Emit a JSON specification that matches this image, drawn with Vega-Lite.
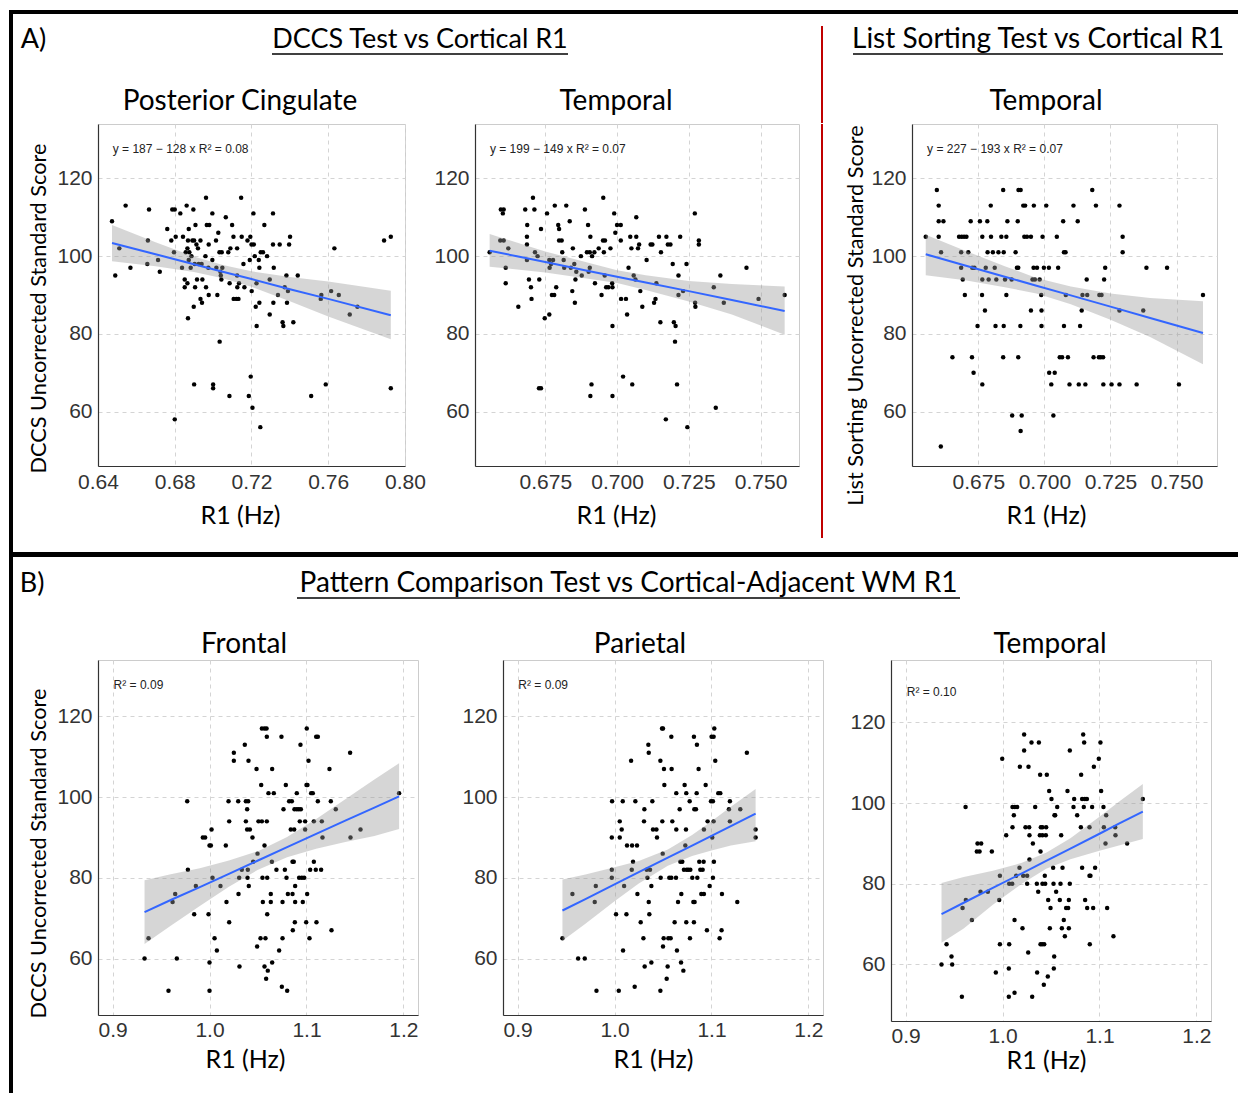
{
"$schema": "https://vega.github.io/schema/vega-lite/v6.json",
"background": "white",
"padding": 0,
"datasets": {
"e": [],
"p1": [{"x":0.6473,"y":109},{"x":0.649,"y":95},{"x":0.6511,"y":102},{"x":0.6544,"y":113},{"x":0.6569,"y":97},{"x":0.6657,"y":98},{"x":0.666,"y":104},{"x":0.6666,"y":112},{"x":0.6713,"y":99},{"x":0.6722,"y":96},{"x":0.6761,"y":107},{"x":0.6782,"y":104},{"x":0.6787,"y":112},{"x":0.68,"y":112},{"x":0.6796,"y":101},{"x":0.68,"y":58},{"x":0.6805,"y":105},{"x":0.6829,"y":111},{"x":0.6838,"y":97},{"x":0.6843,"y":105},{"x":0.6852,"y":94},{"x":0.6852,"y":92},{"x":0.6857,"y":101},{"x":0.6862,"y":113},{"x":0.6866,"y":102},{"x":0.6866,"y":93},{"x":0.6869,"y":84},{"x":0.6869,"y":104},{"x":0.6873,"y":107},{"x":0.6873,"y":99},{"x":0.6876,"y":101},{"x":0.6883,"y":97},{"x":0.6887,"y":100},{"x":0.6892,"y":104},{"x":0.6897,"y":112},{"x":0.6899,"y":87},{"x":0.6901,"y":67},{"x":0.6901,"y":104},{"x":0.6904,"y":98},{"x":0.6908,"y":108},{"x":0.6906,"y":92},{"x":0.6913,"y":103},{"x":0.6916,"y":94},{"x":0.6921,"y":102},{"x":0.6925,"y":98},{"x":0.6934,"y":104},{"x":0.6934,"y":89},{"x":0.6942,"y":88},{"x":0.6944,"y":94},{"x":0.694,"y":98},{"x":0.696,"y":100},{"x":0.6963,"y":115},{"x":0.6963,"y":92},{"x":0.6967,"y":108},{"x":0.6975,"y":97},{"x":0.6977,"y":103},{"x":0.698,"y":108},{"x":0.6977,"y":90},{"x":0.6996,"y":111},{"x":0.6996,"y":99},{"x":0.7,"y":67},{"x":0.7,"y":66},{"x":0.7015,"y":104},{"x":0.7017,"y":97},{"x":0.7022,"y":90},{"x":0.7027,"y":106},{"x":0.7033,"y":101},{"x":0.7034,"y":78},{"x":0.7038,"y":96},{"x":0.704,"y":95},{"x":0.7043,"y":94},{"x":0.7045,"y":101},{"x":0.7048,"y":97},{"x":0.7066,"y":110},{"x":0.7079,"y":101},{"x":0.7086,"y":93},{"x":0.709,"y":102},{"x":0.7085,"y":64},{"x":0.7099,"y":108},{"x":0.7106,"y":105},{"x":0.7107,"y":89},{"x":0.7121,"y":89},{"x":0.7125,"y":95},{"x":0.7125,"y":102},{"x":0.7126,"y":92},{"x":0.7132,"y":89},{"x":0.7135,"y":93},{"x":0.7146,"y":115},{"x":0.7149,"y":105},{"x":0.7158,"y":98},{"x":0.7163,"y":92},{"x":0.7179,"y":104},{"x":0.7186,"y":64},{"x":0.7191,"y":99},{"x":0.7194,"y":105},{"x":0.7196,"y":69},{"x":0.72,"y":103},{"x":0.7201,"y":91},{"x":0.7205,"y":61},{"x":0.721,"y":111},{"x":0.7212,"y":103},{"x":0.7217,"y":100},{"x":0.7222,"y":87},{"x":0.7226,"y":93},{"x":0.7227,"y":82},{"x":0.7238,"y":99},{"x":0.7241,"y":97},{"x":0.7241,"y":88},{"x":0.7246,"y":56},{"x":0.7248,"y":101},{"x":0.726,"y":101},{"x":0.7267,"y":108},{"x":0.7281,"y":100},{"x":0.7295,"y":94},{"x":0.7295,"y":85},{"x":0.7312,"y":111},{"x":0.7312,"y":103},{"x":0.7316,"y":97},{"x":0.7314,"y":88},{"x":0.7338,"y":90},{"x":0.7347,"y":103},{"x":0.7362,"y":83},{"x":0.7366,"y":82},{"x":0.7373,"y":92},{"x":0.7382,"y":95},{"x":0.7385,"y":88},{"x":0.739,"y":91},{"x":0.7396,"y":103},{"x":0.7401,"y":105},{"x":0.7418,"y":83},{"x":0.7441,"y":95},{"x":0.7511,"y":64},{"x":0.7561,"y":89},{"x":0.7564,"y":90},{"x":0.7587,"y":67},{"x":0.7615,"y":91},{"x":0.7632,"y":102},{"x":0.7655,"y":90},{"x":0.7712,"y":85},{"x":0.7752,"y":87},{"x":0.7891,"y":104},{"x":0.7926,"y":105},{"x":0.7926,"y":66}],
"p2": [{"x":0.6556,"y":101},{"x":0.6595,"y":112},{"x":0.6602,"y":111},{"x":0.6605,"y":112},{"x":0.6593,"y":104},{"x":0.6605,"y":104},{"x":0.6612,"y":97},{"x":0.6612,"y":93},{"x":0.6621,"y":102},{"x":0.6656,"y":87},{"x":0.668,"y":112},{"x":0.6687,"y":108},{"x":0.6686,"y":105},{"x":0.6686,"y":103},{"x":0.6686,"y":99},{"x":0.6693,"y":94},{"x":0.67,"y":92},{"x":0.6702,"y":89},{"x":0.6707,"y":115},{"x":0.6712,"y":112},{"x":0.6714,"y":101},{"x":0.6723,"y":100},{"x":0.6729,"y":94},{"x":0.6735,"y":107},{"x":0.6728,"y":66},{"x":0.6735,"y":66},{"x":0.6748,"y":84},{"x":0.6756,"y":111},{"x":0.6764,"y":85},{"x":0.6764,"y":99},{"x":0.6765,"y":97},{"x":0.677,"y":98},{"x":0.6773,"y":90},{"x":0.6781,"y":90},{"x":0.6777,"y":99},{"x":0.6783,"y":113},{"x":0.6788,"y":92},{"x":0.6795,"y":108},{"x":0.6798,"y":107},{"x":0.6798,"y":104},{"x":0.6807,"y":104},{"x":0.6809,"y":101},{"x":0.6814,"y":99},{"x":0.6816,"y":97},{"x":0.6823,"y":113},{"x":0.6835,"y":109},{"x":0.6839,"y":97},{"x":0.6844,"y":91},{"x":0.6846,"y":102},{"x":0.6851,"y":98},{"x":0.6853,"y":88},{"x":0.6855,"y":94},{"x":0.6858,"y":96},{"x":0.6874,"y":100},{"x":0.6877,"y":95},{"x":0.6888,"y":112},{"x":0.6895,"y":101},{"x":0.6899,"y":108},{"x":0.6901,"y":96},{"x":0.6905,"y":97},{"x":0.6907,"y":105},{"x":0.6905,"y":101},{"x":0.6907,"y":64},{"x":0.6911,"y":67},{"x":0.6913,"y":100},{"x":0.6921,"y":101},{"x":0.6923,"y":93},{"x":0.6936,"y":102},{"x":0.6946,"y":90},{"x":0.6952,"y":115},{"x":0.6951,"y":104},{"x":0.6958,"y":104},{"x":0.6954,"y":101},{"x":0.6957,"y":95},{"x":0.6962,"y":92},{"x":0.697,"y":92},{"x":0.6977,"y":102},{"x":0.6983,"y":93},{"x":0.6984,"y":92},{"x":0.6984,"y":82},{"x":0.6984,"y":64},{"x":0.699,"y":111},{"x":0.6994,"y":106},{"x":0.7,"y":108},{"x":0.7013,"y":108},{"x":0.7013,"y":104},{"x":0.7014,"y":89},{"x":0.7021,"y":69},{"x":0.7031,"y":89},{"x":0.7035,"y":85},{"x":0.704,"y":97},{"x":0.7046,"y":105},{"x":0.705,"y":102},{"x":0.7053,"y":67},{"x":0.7058,"y":95},{"x":0.7064,"y":94},{"x":0.7067,"y":110},{"x":0.7067,"y":105},{"x":0.7073,"y":102},{"x":0.7077,"y":103},{"x":0.7081,"y":91},{"x":0.7088,"y":87},{"x":0.7103,"y":99},{"x":0.7117,"y":103},{"x":0.7123,"y":103},{"x":0.7129,"y":88},{"x":0.7134,"y":89},{"x":0.7137,"y":93},{"x":0.7146,"y":105},{"x":0.7151,"y":83},{"x":0.7153,"y":101},{"x":0.717,"y":58},{"x":0.7172,"y":105},{"x":0.7177,"y":103},{"x":0.7186,"y":103},{"x":0.7194,"y":98},{"x":0.7198,"y":83},{"x":0.7204,"y":82},{"x":0.7202,"y":78},{"x":0.7209,"y":67},{"x":0.7214,"y":95},{"x":0.7214,"y":90},{"x":0.722,"y":105},{"x":0.723,"y":91},{"x":0.7242,"y":98},{"x":0.7245,"y":56},{"x":0.7271,"y":111},{"x":0.7272,"y":88},{"x":0.7273,"y":87},{"x":0.7285,"y":104},{"x":0.7285,"y":103},{"x":0.7337,"y":92},{"x":0.7344,"y":61},{"x":0.736,"y":95},{"x":0.7372,"y":88},{"x":0.7451,"y":97},{"x":0.7493,"y":89},{"x":0.7584,"y":90}],
"p3": [{"x":0.6551,"y":105},{"x":0.6593,"y":117},{"x":0.66,"y":113},{"x":0.66,"y":109},{"x":0.6618,"y":109},{"x":0.66,"y":105},{"x":0.6609,"y":101},{"x":0.6608,"y":51},{"x":0.6652,"y":74},{"x":0.6677,"y":105},{"x":0.6687,"y":105},{"x":0.6696,"y":105},{"x":0.6705,"y":105},{"x":0.6685,"y":101},{"x":0.6712,"y":101},{"x":0.6685,"y":97},{"x":0.6691,"y":94},{"x":0.6699,"y":90},{"x":0.6721,"y":109},{"x":0.6727,"y":97},{"x":0.6735,"y":97},{"x":0.6726,"y":74},{"x":0.6732,"y":70},{"x":0.6747,"y":82},{"x":0.6756,"y":109},{"x":0.6765,"y":105},{"x":0.6765,"y":94},{"x":0.6765,"y":67},{"x":0.6764,"y":90},{"x":0.6775,"y":86},{"x":0.6778,"y":97},{"x":0.6784,"y":109},{"x":0.6785,"y":101},{"x":0.6789,"y":94},{"x":0.6797,"y":113},{"x":0.6798,"y":105},{"x":0.6805,"y":101},{"x":0.6812,"y":97},{"x":0.6815,"y":82},{"x":0.6818,"y":94},{"x":0.6826,"y":101},{"x":0.6837,"y":105},{"x":0.6844,"y":117},{"x":0.6846,"y":101},{"x":0.6846,"y":82},{"x":0.6844,"y":74},{"x":0.6851,"y":94},{"x":0.6856,"y":105},{"x":0.686,"y":109},{"x":0.6856,"y":90},{"x":0.6876,"y":94},{"x":0.6891,"y":101},{"x":0.6896,"y":97},{"x":0.6901,"y":97},{"x":0.6899,"y":109},{"x":0.6902,"y":117},{"x":0.691,"y":117},{"x":0.6901,"y":74},{"x":0.6909,"y":82},{"x":0.6914,"y":59},{"x":0.6878,"y":59},{"x":0.691,"y":55},{"x":0.692,"y":113},{"x":0.6927,"y":113},{"x":0.6924,"y":105},{"x":0.6934,"y":105},{"x":0.6949,"y":105},{"x":0.6949,"y":86},{"x":0.6955,"y":94},{"x":0.696,"y":113},{"x":0.6959,"y":97},{"x":0.6964,"y":94},{"x":0.6972,"y":97},{"x":0.6982,"y":94},{"x":0.6988,"y":90},{"x":0.6989,"y":86},{"x":0.6989,"y":82},{"x":0.6993,"y":105},{"x":0.6998,"y":97},{"x":0.7007,"y":113},{"x":0.7017,"y":97},{"x":0.7018,"y":70},{"x":0.7026,"y":67},{"x":0.7034,"y":59},{"x":0.7039,"y":70},{"x":0.7047,"y":105},{"x":0.7052,"y":97},{"x":0.7058,"y":74},{"x":0.7067,"y":74},{"x":0.7071,"y":109},{"x":0.7074,"y":101},{"x":0.708,"y":101},{"x":0.7074,"y":82},{"x":0.7081,"y":90},{"x":0.7089,"y":74},{"x":0.7095,"y":67},{"x":0.711,"y":113},{"x":0.7126,"y":109},{"x":0.713,"y":67},{"x":0.7135,"y":82},{"x":0.7141,"y":86},{"x":0.7144,"y":90},{"x":0.716,"y":94},{"x":0.7162,"y":90},{"x":0.7155,"y":67},{"x":0.7181,"y":117},{"x":0.7186,"y":74},{"x":0.7195,"y":113},{"x":0.7206,"y":74},{"x":0.7213,"y":74},{"x":0.7222,"y":74},{"x":0.7208,"y":90},{"x":0.7216,"y":90},{"x":0.7223,"y":67},{"x":0.7226,"y":94},{"x":0.723,"y":97},{"x":0.7254,"y":67},{"x":0.7284,"y":113},{"x":0.7296,"y":105},{"x":0.7296,"y":101},{"x":0.7284,"y":86},{"x":0.7284,"y":67},{"x":0.7349,"y":67},{"x":0.7374,"y":86},{"x":0.7386,"y":97},{"x":0.7464,"y":97},{"x":0.7509,"y":67},{"x":0.76,"y":90}],
"p4": [{"x":0.933,"y":60},{"x":0.9371,"y":65},{"x":0.9577,"y":52},{"x":0.9619,"y":74},{"x":0.9646,"y":76},{"x":0.9663,"y":60},{"x":0.977,"y":99},{"x":0.9777,"y":82},{"x":0.9842,"y":71},{"x":0.9859,"y":78},{"x":0.9931,"y":90},{"x":0.9955,"y":90},{"x":0.999,"y":71},{"x":1.0,"y":88},{"x":1.0014,"y":88},{"x":1.0021,"y":92},{"x":1.0,"y":59},{"x":1.0,"y":52},{"x":1.0031,"y":80},{"x":1.0052,"y":65},{"x":1.0076,"y":62},{"x":1.0113,"y":78},{"x":1.0168,"y":88},{"x":1.0175,"y":74},{"x":1.0196,"y":99},{"x":1.0203,"y":94},{"x":1.0203,"y":69},{"x":1.0251,"y":111},{"x":1.0251,"y":109},{"x":1.0296,"y":99},{"x":1.0299,"y":76},{"x":1.0306,"y":80},{"x":1.0309,"y":58},{"x":1.0333,"y":82},{"x":1.0364,"y":113},{"x":1.0375,"y":99},{"x":1.0375,"y":94},{"x":1.0388,"y":97},{"x":1.0388,"y":92},{"x":1.0402,"y":109},{"x":1.0399,"y":99},{"x":1.0395,"y":82},{"x":1.0392,"y":80},{"x":1.0405,"y":78},{"x":1.0416,"y":92},{"x":1.0443,"y":90},{"x":1.045,"y":84},{"x":1.0485,"y":107},{"x":1.0491,"y":63},{"x":1.0495,"y":86},{"x":1.0505,"y":94},{"x":1.0533,"y":103},{"x":1.0526,"y":65},{"x":1.054,"y":94},{"x":1.0546,"y":80},{"x":1.055,"y":74},{"x":1.054,"y":117},{"x":1.0567,"y":117},{"x":1.0588,"y":117},{"x":1.0567,"y":88},{"x":1.0567,"y":58},{"x":1.0577,"y":65},{"x":1.0584,"y":55},{"x":1.0591,"y":115},{"x":1.0591,"y":94},{"x":1.0595,"y":80},{"x":1.0595,"y":71},{"x":1.0601,"y":57},{"x":1.0608,"y":101},{"x":1.0632,"y":76},{"x":1.0632,"y":74},{"x":1.0646,"y":59},{"x":1.0643,"y":84},{"x":1.0646,"y":107},{"x":1.0663,"y":101},{"x":1.069,"y":82},{"x":1.0718,"y":62},{"x":1.0742,"y":115},{"x":1.0746,"y":53},{"x":1.0753,"y":74},{"x":1.0753,"y":65},{"x":1.0763,"y":97},{"x":1.0777,"y":82},{"x":1.0787,"y":103},{"x":1.0794,"y":80},{"x":1.0801,"y":52},{"x":1.0808,"y":76},{"x":1.0821,"y":99},{"x":1.0849,"y":99},{"x":1.0838,"y":92},{"x":1.0856,"y":84},{"x":1.0856,"y":76},{"x":1.0859,"y":67},{"x":1.0873,"y":92},{"x":1.0876,"y":97},{"x":1.0869,"y":84},{"x":1.088,"y":69},{"x":1.0883,"y":78},{"x":1.0883,"y":74},{"x":1.09,"y":101},{"x":1.09,"y":97},{"x":1.0921,"y":97},{"x":1.0924,"y":80},{"x":1.0931,"y":94},{"x":1.0938,"y":113},{"x":1.0942,"y":97},{"x":1.0952,"y":80},{"x":1.0962,"y":74},{"x":1.0976,"y":80},{"x":1.0986,"y":94},{"x":1.0986,"y":92},{"x":1.0997,"y":69},{"x":1.1003,"y":117},{"x":1.1,"y":103},{"x":1.101,"y":103},{"x":1.1007,"y":76},{"x":1.1021,"y":109},{"x":1.1031,"y":65},{"x":1.1038,"y":82},{"x":1.1048,"y":101},{"x":1.1065,"y":101},{"x":1.1076,"y":94},{"x":1.1076,"y":84},{"x":1.1096,"y":82},{"x":1.11,"y":115},{"x":1.1117,"y":115},{"x":1.1117,"y":99},{"x":1.1103,"y":69},{"x":1.1151,"y":82},{"x":1.1158,"y":94},{"x":1.1165,"y":90},{"x":1.1237,"y":107},{"x":1.1251,"y":99},{"x":1.1258,"y":67},{"x":1.1302,"y":97},{"x":1.145,"y":111},{"x":1.1454,"y":90},{"x":1.1557,"y":92},{"x":1.1955,"y":101}],
"p5": [{"x":0.9463,"y":65},{"x":0.9566,"y":76},{"x":0.9625,"y":60},{"x":0.9693,"y":60},{"x":0.9807,"y":78},{"x":0.9796,"y":74},{"x":0.9814,"y":52},{"x":0.9972,"y":82},{"x":0.9972,"y":80},{"x":0.9972,"y":90},{"x":0.9975,"y":99},{"x":1.0016,"y":71},{"x":1.0044,"y":52},{"x":1.0054,"y":94},{"x":1.0054,"y":90},{"x":1.0074,"y":92},{"x":1.0085,"y":99},{"x":1.0088,"y":62},{"x":1.0099,"y":78},{"x":1.0123,"y":71},{"x":1.0129,"y":88},{"x":1.0181,"y":88},{"x":1.0171,"y":109},{"x":1.0191,"y":84},{"x":1.0178,"y":82},{"x":1.0208,"y":53},{"x":1.0215,"y":99},{"x":1.0232,"y":88},{"x":1.0236,"y":76},{"x":1.027,"y":69},{"x":1.0298,"y":65},{"x":1.0304,"y":94},{"x":1.0308,"y":97},{"x":1.0311,"y":58},{"x":1.0332,"y":82},{"x":1.0339,"y":80},{"x":1.0349,"y":113},{"x":1.0353,"y":111},{"x":1.0353,"y":74},{"x":1.0359,"y":71},{"x":1.0366,"y":82},{"x":1.038,"y":78},{"x":1.038,"y":59},{"x":1.039,"y":99},{"x":1.0397,"y":92},{"x":1.0432,"y":92},{"x":1.0438,"y":90},{"x":1.0473,"y":109},{"x":1.0476,"y":80},{"x":1.0473,"y":52},{"x":1.049,"y":117},{"x":1.05,"y":117},{"x":1.0493,"y":94},{"x":1.0497,"y":86},{"x":1.05,"y":63},{"x":1.0507,"y":65},{"x":1.051,"y":107},{"x":1.0514,"y":103},{"x":1.0538,"y":55},{"x":1.0548,"y":58},{"x":1.0555,"y":65},{"x":1.0565,"y":80},{"x":1.0579,"y":65},{"x":1.0586,"y":115},{"x":1.0586,"y":80},{"x":1.0589,"y":107},{"x":1.0596,"y":94},{"x":1.062,"y":69},{"x":1.0634,"y":80},{"x":1.0637,"y":101},{"x":1.0637,"y":92},{"x":1.0644,"y":62},{"x":1.0655,"y":74},{"x":1.0672,"y":97},{"x":1.0679,"y":84},{"x":1.0686,"y":59},{"x":1.0689,"y":76},{"x":1.071,"y":57},{"x":1.0699,"y":84},{"x":1.0716,"y":82},{"x":1.0723,"y":103},{"x":1.073,"y":88},{"x":1.0737,"y":92},{"x":1.074,"y":101},{"x":1.0744,"y":82},{"x":1.074,"y":69},{"x":1.0761,"y":82},{"x":1.0775,"y":99},{"x":1.0782,"y":82},{"x":1.0778,"y":65},{"x":1.0802,"y":80},{"x":1.0813,"y":74},{"x":1.0819,"y":115},{"x":1.0819,"y":69},{"x":1.0823,"y":97},{"x":1.0826,"y":74},{"x":1.084,"y":97},{"x":1.0847,"y":101},{"x":1.085,"y":113},{"x":1.0854,"y":80},{"x":1.0867,"y":107},{"x":1.0874,"y":84},{"x":1.0885,"y":82},{"x":1.0895,"y":76},{"x":1.0909,"y":82},{"x":1.0919,"y":84},{"x":1.0922,"y":76},{"x":1.0922,"y":92},{"x":1.094,"y":103},{"x":1.0953,"y":67},{"x":1.096,"y":94},{"x":1.0981,"y":78},{"x":1.0995,"y":99},{"x":1.1001,"y":115},{"x":1.1008,"y":90},{"x":1.1015,"y":80},{"x":1.1022,"y":115},{"x":1.1015,"y":99},{"x":1.1022,"y":94},{"x":1.1025,"y":84},{"x":1.1029,"y":117},{"x":1.1039,"y":109},{"x":1.107,"y":101},{"x":1.1091,"y":101},{"x":1.1084,"y":65},{"x":1.1104,"y":67},{"x":1.1108,"y":76},{"x":1.119,"y":99},{"x":1.119,"y":94},{"x":1.118,"y":97},{"x":1.1266,"y":74},{"x":1.1297,"y":97},{"x":1.1365,"y":111},{"x":1.1455,"y":92},{"x":1.1455,"y":90}],
"p6": [{"x":0.9371,"y":60},{"x":0.9423,"y":65},{"x":0.9474,"y":62},{"x":0.9481,"y":60},{"x":0.9581,"y":52},{"x":0.9588,"y":74},{"x":0.9619,"y":99},{"x":0.9622,"y":76},{"x":0.9684,"y":71},{"x":0.9735,"y":88},{"x":0.9763,"y":88},{"x":0.9742,"y":90},{"x":0.978,"y":90},{"x":0.9773,"y":78},{"x":0.9849,"y":78},{"x":0.989,"y":88},{"x":0.9931,"y":58},{"x":0.9966,"y":76},{"x":0.9973,"y":65},{"x":0.9973,"y":82},{"x":0.9997,"y":111},{"x":1.0038,"y":92},{"x":1.0069,"y":80},{"x":1.0065,"y":52},{"x":1.0069,"y":65},{"x":1.0065,"y":59},{"x":1.0103,"y":94},{"x":1.0103,"y":99},{"x":1.0117,"y":97},{"x":1.0127,"y":99},{"x":1.0151,"y":99},{"x":1.0124,"y":71},{"x":1.0124,"y":53},{"x":1.01,"y":80},{"x":1.0141,"y":82},{"x":1.0175,"y":84},{"x":1.0179,"y":109},{"x":1.0206,"y":69},{"x":1.0223,"y":113},{"x":1.0223,"y":117},{"x":1.0213,"y":82},{"x":1.0237,"y":94},{"x":1.0254,"y":82},{"x":1.0265,"y":63},{"x":1.0268,"y":109},{"x":1.0275,"y":94},{"x":1.0278,"y":92},{"x":1.0254,"y":80},{"x":1.0278,"y":86},{"x":1.0299,"y":115},{"x":1.0306,"y":52},{"x":1.0313,"y":90},{"x":1.0337,"y":99},{"x":1.0354,"y":80},{"x":1.0357,"y":58},{"x":1.0368,"y":78},{"x":1.0375,"y":115},{"x":1.0385,"y":92},{"x":1.0392,"y":88},{"x":1.0392,"y":65},{"x":1.0388,"y":107},{"x":1.0395,"y":94},{"x":1.0409,"y":65},{"x":1.0412,"y":80},{"x":1.0412,"y":94},{"x":1.0412,"y":92},{"x":1.0426,"y":55},{"x":1.043,"y":65},{"x":1.0436,"y":82},{"x":1.044,"y":80},{"x":1.0447,"y":92},{"x":1.045,"y":94},{"x":1.0457,"y":107},{"x":1.0467,"y":57},{"x":1.0471,"y":76},{"x":1.0481,"y":103},{"x":1.0488,"y":69},{"x":1.0495,"y":74},{"x":1.0505,"y":101},{"x":1.0522,"y":84},{"x":1.0526,"y":80},{"x":1.0533,"y":62},{"x":1.0529,"y":59},{"x":1.0536,"y":97},{"x":1.0543,"y":97},{"x":1.0553,"y":78},{"x":1.0564,"y":99},{"x":1.0591,"y":76},{"x":1.0598,"y":80},{"x":1.0605,"y":92},{"x":1.0612,"y":69},{"x":1.0619,"y":84},{"x":1.0632,"y":71},{"x":1.0643,"y":67},{"x":1.0656,"y":74},{"x":1.067,"y":103},{"x":1.0677,"y":74},{"x":1.0684,"y":76},{"x":1.0684,"y":69},{"x":1.0694,"y":113},{"x":1.0694,"y":80},{"x":1.0732,"y":99},{"x":1.0739,"y":101},{"x":1.077,"y":97},{"x":1.0808,"y":94},{"x":1.0811,"y":107},{"x":1.0821,"y":101},{"x":1.0821,"y":84},{"x":1.0832,"y":117},{"x":1.0842,"y":115},{"x":1.0838,"y":99},{"x":1.0849,"y":101},{"x":1.087,"y":101},{"x":1.0852,"y":76},{"x":1.0873,"y":74},{"x":1.0897,"y":94},{"x":1.0897,"y":82},{"x":1.09,"y":65},{"x":1.0907,"y":82},{"x":1.0924,"y":99},{"x":1.0935,"y":74},{"x":1.0942,"y":109},{"x":1.0955,"y":84},{"x":1.0993,"y":111},{"x":1.101,"y":115},{"x":1.1017,"y":103},{"x":1.1041,"y":99},{"x":1.1045,"y":94},{"x":1.1062,"y":90},{"x":1.1069,"y":97},{"x":1.1079,"y":74},{"x":1.1162,"y":94},{"x":1.1165,"y":92},{"x":1.1144,"y":67},{"x":1.1285,"y":90},{"x":1.1447,"y":101}],
"b1": [{"x":0.6473,"lo":98.7,"hi":108.0,"fit":103.4},{"x":0.67,"lo":97.4,"hi":103.6,"fit":100.5},{"x":0.69,"lo":95.9,"hi":99.9,"fit":97.9},{"x":0.705,"lo":94.3,"hi":97.7,"fit":96.0},{"x":0.72,"lo":92.1,"hi":96.1,"fit":94.1},{"x":0.74,"lo":88.4,"hi":94.6,"fit":91.5},{"x":0.76,"lo":84.5,"hi":93.5,"fit":89.0},{"x":0.7926,"lo":78.6,"hi":91.1,"fit":84.8}],
"b2": [{"x":0.6556,"lo":97.3,"hi":105.7,"fit":101.4},{"x":0.675,"lo":95.8,"hi":101.2,"fit":98.5},{"x":0.69,"lo":94.2,"hi":98.3,"fit":96.2},{"x":0.7,"lo":93.1,"hi":96.4,"fit":94.7},{"x":0.71,"lo":91.3,"hi":95.1,"fit":93.2},{"x":0.725,"lo":88.3,"hi":93.6,"fit":91.0},{"x":0.74,"lo":85.0,"hi":92.8,"fit":88.7},{"x":0.7584,"lo":79.8,"hi":92.2,"fit":85.9}],
"b3": [{"x":0.6551,"lo":95.1,"hi":105.5,"fit":100.5},{"x":0.67,"lo":93.8,"hi":101.4,"fit":97.6},{"x":0.685,"lo":92.0,"hi":97.4,"fit":94.7},{"x":0.697,"lo":90.4,"hi":94.4,"fit":92.4},{"x":0.71,"lo":87.6,"hi":92.2,"fit":89.9},{"x":0.725,"lo":83.6,"hi":90.4,"fit":87.0},{"x":0.74,"lo":79.2,"hi":89.2,"fit":84.1},{"x":0.76,"lo":72.2,"hi":88.4,"fit":80.2}],
"b4": [{"x":0.933,"lo":63.6,"hi":79.4,"fit":71.5},{"x":0.96,"lo":68.1,"hi":80.9,"fit":74.5},{"x":0.99,"lo":73.0,"hi":82.4,"fit":77.7},{"x":1.02,"lo":77.8,"hi":84.3,"fit":81.0},{"x":1.05,"lo":82.0,"hi":86.6,"fit":84.3},{"x":1.08,"lo":85.1,"hi":90.1,"fit":87.6},{"x":1.11,"lo":87.2,"hi":94.6,"fit":90.9},{"x":1.14,"lo":88.9,"hi":99.5,"fit":94.2},{"x":1.17,"lo":90.4,"hi":104.4,"fit":97.4},{"x":1.1955,"lo":92.1,"hi":108.4,"fit":100.2}],
"b5": [{"x":0.9463,"lo":64.4,"hi":79.6,"fit":71.9},{"x":0.97,"lo":68.6,"hi":80.8,"fit":74.7},{"x":1.0,"lo":74.2,"hi":82.6,"fit":78.4},{"x":1.025,"lo":78.6,"hi":84.2,"fit":81.4},{"x":1.055,"lo":83.0,"hi":87.0,"fit":85.0},{"x":1.08,"lo":85.4,"hi":90.6,"fit":88.0},{"x":1.1,"lo":86.8,"hi":94.0,"fit":90.4},{"x":1.12,"lo":88.0,"hi":97.6,"fit":92.8},{"x":1.1455,"lo":89.1,"hi":102.0,"fit":95.9}],
"b6": [{"x":0.9371,"lo":65.4,"hi":80.2,"fit":72.5},{"x":0.96,"lo":68.9,"hi":81.7,"fit":75.3},{"x":0.99,"lo":74.8,"hi":83.2,"fit":79.0},{"x":1.02,"lo":80.0,"hi":85.2,"fit":82.6},{"x":1.045,"lo":83.7,"hi":87.7,"fit":85.7},{"x":1.07,"lo":86.1,"hi":91.3,"fit":88.7},{"x":1.1,"lo":88.2,"hi":96.6,"fit":92.4},{"x":1.12,"lo":89.5,"hi":100.3,"fit":94.9},{"x":1.1447,"lo":91.1,"hi":104.7,"fit":97.9}]
},
"config": {
"view": {"stroke": null},
"font": "Lato",
"axis": {"labelFont": "Liberation Sans", "labelFontSize": 21, "labelColor": "#333333", "labelFlush": false, "labelOverlap": false, "ticks": false, "labelPadding": 6, "domainColor": "#333333", "domainWidth": 1.2, "gridColor": "#d4d4d4", "gridDash": [4, 4], "gridWidth": 1, "titleFont": "Lato", "titleFontSize": 25, "titleFontWeight": "normal", "titleColor": "#000000"}
},
"spacing": 0,
"vconcat": [
{"spacing":0,"bounds":"flush","hconcat":[
 {"width":9,"height":10,"view":{"fill":"#ffffff"},"data":{"name":"e"},"mark":"text"},
 {"width":1229,"height":10,"data":{"name":"e"},"mark":"text"}
]},
{"spacing":0,"bounds":"flush","hconcat":[
 {"width":9,"height":4,"data":{"name":"e"},"mark":"text"},
 {"width":1229,"height":4,"view":{"fill":"#000000"},"data":{"name":"e"},"mark":"text"}
]},
{"spacing":0,"bounds":"flush","hconcat":[
 {"width":9,"height":11,"data":{"name":"e"},"mark":"text"},
 {"width":4,"height":11,"view":{"fill":"#000000"},"data":{"name":"e"},"mark":"text"},
 {"width":1225,"height":11,"data":{"name":"e"},"mark":"text"}
]},
{"spacing":0,"bounds":"flush","hconcat":[
 {"width":10,"height":28,"data":{"name":"e"},"mark":"text"},
 {"width":2,"height":28,"view":{"fill":"#000000","stroke":"#000000","strokeWidth":2},"data":{"name":"e"},"mark":"text"},
 {"width":43,"height":28,"data":{"values":[{"t":"A)"}]},"mark":{"type":"text","font":"Lato","fontSize":27,"align":"center","baseline":"middle","color":"#000000"},"encoding":{"text":{"field":"t","type":"nominal"}}},
 {"width":217,"height":28,"data":{"name":"e"},"mark":"text"},
 {"width":296,"height":28,"view":{"stroke":"#000000","strokeWidth":1.5,"strokeDash":[0,324,296,28]},"data":{"values":[{"t":"DCCS Test vs Cortical R1"}]},"mark":{"type":"text","font":"Lato","fontSize":27,"align":"center","baseline":"middle","color":"#000000"},"encoding":{"text":{"field":"t","type":"nominal"}}},
 {"width":253,"height":28,"data":{"name":"e"},"mark":"text"},
 {"width":2,"height":29,"view":{"fill":"#c00000"},"data":{"name":"e"},"mark":"text"},
 {"width":30,"height":28,"data":{"name":"e"},"mark":"text"},
 {"width":370,"height":28,"view":{"stroke":"#000000","strokeWidth":1.5,"strokeDash":[0,398,370,28]},"data":{"values":[{"t":"List Sorting Test vs Cortical R1"}]},"mark":{"type":"text","font":"Lato","fontSize":28,"align":"center","baseline":"middle","color":"#000000"},"encoding":{"text":{"field":"t","type":"nominal"}}},
 {"width":15,"height":28,"data":{"name":"e"},"mark":"text"}
]},
{"spacing":0,"bounds":"flush","hconcat":[
 {"width":9,"height":33,"data":{"name":"e"},"mark":"text"},
 {"width":4,"height":33,"view":{"fill":"#000000"},"data":{"name":"e"},"mark":"text"},
 {"width":808,"height":33,"data":{"name":"e"},"mark":"text"},
 {"width":2,"height":33,"view":{"fill":"#c00000"},"data":{"name":"e"},"mark":"text"},
 {"width":415,"height":33,"data":{"name":"e"},"mark":"text"}
]},
{"spacing":0,"bounds":"flush","hconcat":[
 {"width":9,"height":28,"data":{"name":"e"},"mark":"text"},
 {"width":4,"height":28,"view":{"fill":"#000000"},"data":{"name":"e"},"mark":"text"},
 {"width":127,"height":28,"data":{"name":"e"},"mark":"text"},
 {"width":200,"height":28,"data":{"values":[{"t":"Posterior Cingulate"}]},"mark":{"type":"text","font":"Lato","fontSize":28,"align":"center","baseline":"middle","color":"#000000"},"encoding":{"text":{"field":"t","type":"nominal"}}},
 {"width":176,"height":28,"data":{"name":"e"},"mark":"text"},
 {"width":200,"height":28,"data":{"values":[{"t":"Temporal"}]},"mark":{"type":"text","font":"Lato","fontSize":28,"align":"center","baseline":"middle","color":"#000000"},"encoding":{"text":{"field":"t","type":"nominal"}}},
 {"width":105,"height":28,"data":{"name":"e"},"mark":"text"},
 {"width":2,"height":28,"view":{"fill":"#c00000"},"data":{"name":"e"},"mark":"text"},
 {"width":123,"height":28,"data":{"name":"e"},"mark":"text"},
 {"width":200,"height":28,"data":{"values":[{"t":"Temporal"}]},"mark":{"type":"text","font":"Lato","fontSize":28,"align":"center","baseline":"middle","color":"#000000"},"encoding":{"text":{"field":"t","type":"nominal"}}},
 {"width":92,"height":28,"data":{"name":"e"},"mark":"text"}
]},
{"spacing":0,"bounds":"flush","hconcat":[
 {"width":9,"height":7,"data":{"name":"e"},"mark":"text"},
 {"width":4,"height":7,"view":{"fill":"#000000"},"data":{"name":"e"},"mark":"text"},
 {"width":808,"height":7,"data":{"name":"e"},"mark":"text"},
 {"width":2,"height":7,"view":{"fill":"#c00000"},"data":{"name":"e"},"mark":"text"},
 {"width":415,"height":7,"data":{"name":"e"},"mark":"text"}
]},
{"spacing":0,"bounds":"flush","hconcat":[
 {"width":10,"height":342,"data":{"name":"e"},"mark":"text"},
 {"width":2,"height":414,"view":{"fill":"#000000","stroke":"#000000","strokeWidth":2},"data":{"name":"e"},"mark":"text"},
 {"width":86,"height":342,"data":{"name":"e"},"mark":"text"},
 {"width":307,"height":342,"view":{"stroke":"#cccccc"},
  "layer":[
   {"data":{"name":"p1"},"mark":{"type":"circle","size":20,"color":"#000000","opacity":1},
    "encoding":{"x":{"field":"x","type":"quantitative","title":"R1 (Hz)","scale":{"domain":[0.64,0.8],"nice":false,"zero":false},"axis":{"values":[0.64,0.68,0.72,0.76,0.8],"format":".2f","labelPadding":5,"titleX":142,"titleY":57,"titleBaseline":"alphabetic","titleAlign":"center"}},
     "y":{"field":"y","type":"quantitative","title":"DCCS Uncorrected Standard Score","scale":{"domain":[46,134],"nice":false,"zero":false},"axis":{"values":[60,80,100,120],"titleFontSize":21.7,"titleAngle":270,"titleX":-60,"titleY":184,"titleBaseline":"middle","titleAlign":"center"}}}},
   {"data":{"name":"b1"},"mark":{"type":"area","color":"#999999","opacity":0.4},
    "encoding":{"x":{"field":"x","type":"quantitative","title":"R1 (Hz)","scale":{"domain":[0.64,0.8],"nice":false,"zero":false}},"y":{"field":"lo","type":"quantitative","title":"DCCS Uncorrected Standard Score","scale":{"domain":[46,134],"nice":false,"zero":false}},"y2":{"field":"hi"}}},
   {"data":{"name":"b1"},"mark":{"type":"line","color":"#3366FF","strokeWidth":2},
    "encoding":{"x":{"field":"x","type":"quantitative","title":"R1 (Hz)","scale":{"domain":[0.64,0.8],"nice":false,"zero":false}},"y":{"field":"fit","type":"quantitative","title":"DCCS Uncorrected Standard Score","scale":{"domain":[46,134],"nice":false,"zero":false}}}},
   {"data":{"values":[{"t":"y = 187 − 128 x   R² = 0.08"}]},"mark":{"type":"text","align":"left","baseline":"middle","font":"Liberation Sans","fontSize":12,"color":"#222222"},
    "encoding":{"x":{"datum":0.6477,"type":"quantitative","scale":{"domain":[0.64,0.8],"nice":false,"zero":false}},"y":{"datum":127.5,"type":"quantitative","scale":{"domain":[46,134],"nice":false,"zero":false}},"text":{"field":"t","type":"nominal"}}}
  ]},
 {"width":70,"height":342,"data":{"name":"e"},"mark":"text"},
 {"width":324,"height":342,"view":{"stroke":"#cccccc"},
  "layer":[
   {"data":{"name":"p2"},"mark":{"type":"circle","size":20,"color":"#000000","opacity":1},
    "encoding":{"x":{"field":"x","type":"quantitative","title":"R1 (Hz)","scale":{"domain":[0.6505,0.7634],"nice":false,"zero":false},"axis":{"values":[0.675,0.7,0.725,0.75],"format":".3f","labelPadding":5,"titleX":141,"titleY":57,"titleBaseline":"alphabetic","titleAlign":"center"}},
     "y":{"field":"y","type":"quantitative","title":null,"scale":{"domain":[46,134],"nice":false,"zero":false},"axis":{"values":[60,80,100,120]}}}},
   {"data":{"name":"b2"},"mark":{"type":"area","color":"#999999","opacity":0.4},
    "encoding":{"x":{"field":"x","type":"quantitative","title":"R1 (Hz)","scale":{"domain":[0.6505,0.7634],"nice":false,"zero":false}},"y":{"field":"lo","type":"quantitative","title":null,"scale":{"domain":[46,134],"nice":false,"zero":false}},"y2":{"field":"hi"}}},
   {"data":{"name":"b2"},"mark":{"type":"line","color":"#3366FF","strokeWidth":2},
    "encoding":{"x":{"field":"x","type":"quantitative","title":"R1 (Hz)","scale":{"domain":[0.6505,0.7634],"nice":false,"zero":false}},"y":{"field":"fit","type":"quantitative","title":null,"scale":{"domain":[46,134],"nice":false,"zero":false}}}},
   {"data":{"values":[{"t":"y = 199 − 149 x   R² = 0.07"}]},"mark":{"type":"text","align":"left","baseline":"middle","font":"Liberation Sans","fontSize":12,"color":"#222222"},
    "encoding":{"x":{"datum":0.6557,"type":"quantitative","scale":{"domain":[0.6505,0.7634],"nice":false,"zero":false}},"y":{"datum":127.5,"type":"quantitative","scale":{"domain":[46,134],"nice":false,"zero":false}},"text":{"field":"t","type":"nominal"}}}
  ]},
 {"width":22,"height":342,"data":{"name":"e"},"mark":"text"},
 {"width":2,"height":414,"view":{"fill":"#c00000"},"data":{"name":"e"},"mark":"text"},
 {"width":89,"height":342,"data":{"name":"e"},"mark":"text"},
 {"width":305,"height":342,"view":{"stroke":"#cccccc"},
  "layer":[
   {"data":{"name":"p3"},"mark":{"type":"circle","size":20,"color":"#000000","opacity":1},
    "encoding":{"x":{"field":"x","type":"quantitative","title":"R1 (Hz)","scale":{"domain":[0.6499,0.7653],"nice":false,"zero":false},"axis":{"values":[0.675,0.7,0.725,0.75],"format":".3f","labelPadding":5,"titleX":134,"titleY":57,"titleBaseline":"alphabetic","titleAlign":"center"}},
     "y":{"field":"y","type":"quantitative","title":"List Sorting Uncorrected Standard Score","scale":{"domain":[46,134],"nice":false,"zero":false},"axis":{"values":[60,80,100,120],"titleFontSize":21.7,"titleAngle":270,"titleX":-57,"titleY":191,"titleBaseline":"middle","titleAlign":"center"}}}},
   {"data":{"name":"b3"},"mark":{"type":"area","color":"#999999","opacity":0.4},
    "encoding":{"x":{"field":"x","type":"quantitative","title":"R1 (Hz)","scale":{"domain":[0.6499,0.7653],"nice":false,"zero":false}},"y":{"field":"lo","type":"quantitative","title":"List Sorting Uncorrected Standard Score","scale":{"domain":[46,134],"nice":false,"zero":false}},"y2":{"field":"hi"}}},
   {"data":{"name":"b3"},"mark":{"type":"line","color":"#3366FF","strokeWidth":2},
    "encoding":{"x":{"field":"x","type":"quantitative","title":"R1 (Hz)","scale":{"domain":[0.6499,0.7653],"nice":false,"zero":false}},"y":{"field":"fit","type":"quantitative","title":"List Sorting Uncorrected Standard Score","scale":{"domain":[46,134],"nice":false,"zero":false}}}},
   {"data":{"values":[{"t":"y = 227 − 193 x   R² = 0.07"}]},"mark":{"type":"text","align":"left","baseline":"middle","font":"Liberation Sans","fontSize":12,"color":"#222222"},
    "encoding":{"x":{"datum":0.6556,"type":"quantitative","scale":{"domain":[0.6499,0.7653],"nice":false,"zero":false}},"y":{"datum":127.5,"type":"quantitative","scale":{"domain":[46,134],"nice":false,"zero":false}},"text":{"field":"t","type":"nominal"}}}
  ]},
 {"width":21,"height":342,"data":{"name":"e"},"mark":"text"}
]},
{"spacing":0,"bounds":"flush","hconcat":[
 {"width":9,"height":13,"data":{"name":"e"},"mark":"text"},
 {"width":4,"height":13,"view":{"fill":"#000000"},"data":{"name":"e"},"mark":"text"},
 {"width":1225,"height":13,"data":{"name":"e"},"mark":"text"}
]},
{"spacing":0,"bounds":"flush","hconcat":[
 {"width":9,"height":5,"data":{"name":"e"},"mark":"text"},
 {"width":1229,"height":5,"view":{"fill":"#000000"},"data":{"name":"e"},"mark":"text"}
]},
{"spacing":0,"bounds":"flush","hconcat":[
 {"width":9,"height":12,"data":{"name":"e"},"mark":"text"},
 {"width":4,"height":12,"view":{"fill":"#000000"},"data":{"name":"e"},"mark":"text"},
 {"width":1225,"height":12,"data":{"name":"e"},"mark":"text"}
]},
{"spacing":0,"bounds":"flush","hconcat":[
 {"width":10,"height":28,"data":{"name":"e"},"mark":"text"},
 {"width":2,"height":28,"view":{"fill":"#000000","stroke":"#000000","strokeWidth":2},"data":{"name":"e"},"mark":"text"},
 {"width":40,"height":28,"data":{"values":[{"t":"B)"}]},"mark":{"type":"text","font":"Lato","fontSize":27,"align":"center","baseline":"middle","color":"#000000"},"encoding":{"text":{"field":"t","type":"nominal"}}},
 {"width":245,"height":28,"data":{"name":"e"},"mark":"text"},
 {"width":663,"height":28,"view":{"stroke":"#000000","strokeWidth":1.5,"strokeDash":[0,691,663,28]},"data":{"values":[{"t":"Pattern Comparison Test vs Cortical-Adjacent WM R1"}]},"mark":{"type":"text","font":"Lato","fontSize":28,"align":"center","baseline":"middle","color":"#000000"},"encoding":{"text":{"field":"t","type":"nominal"}}},
 {"width":278,"height":28,"data":{"name":"e"},"mark":"text"}
]},
{"spacing":0,"bounds":"flush","hconcat":[
 {"width":9,"height":32,"data":{"name":"e"},"mark":"text"},
 {"width":4,"height":32,"view":{"fill":"#000000"},"data":{"name":"e"},"mark":"text"},
 {"width":1225,"height":32,"data":{"name":"e"},"mark":"text"}
]},
{"spacing":0,"bounds":"flush","hconcat":[
 {"width":9,"height":28,"data":{"name":"e"},"mark":"text"},
 {"width":4,"height":28,"view":{"fill":"#000000"},"data":{"name":"e"},"mark":"text"},
 {"width":131,"height":28,"data":{"name":"e"},"mark":"text"},
 {"width":200,"height":28,"data":{"values":[{"t":"Frontal"}]},"mark":{"type":"text","font":"Lato","fontSize":28,"align":"center","baseline":"middle","color":"#000000"},"encoding":{"text":{"field":"t","type":"nominal"}}},
 {"width":196,"height":28,"data":{"name":"e"},"mark":"text"},
 {"width":200,"height":28,"data":{"values":[{"t":"Parietal"}]},"mark":{"type":"text","font":"Lato","fontSize":28,"align":"center","baseline":"middle","color":"#000000"},"encoding":{"text":{"field":"t","type":"nominal"}}},
 {"width":210,"height":28,"data":{"name":"e"},"mark":"text"},
 {"width":200,"height":28,"data":{"values":[{"t":"Temporal"}]},"mark":{"type":"text","font":"Lato","fontSize":28,"align":"center","baseline":"middle","color":"#000000"},"encoding":{"text":{"field":"t","type":"nominal"}}},
 {"width":88,"height":28,"data":{"name":"e"},"mark":"text"}
]},
{"spacing":0,"bounds":"flush","hconcat":[
 {"width":10,"height":355,"data":{"name":"e"},"mark":"text"},
 {"width":2,"height":433,"view":{"fill":"#000000","stroke":"#000000","strokeWidth":2},"data":{"name":"e"},"mark":"text"},
 {"width":86,"height":355,"data":{"name":"e"},"mark":"text"},
 {"width":320,"height":355,"view":{"stroke":"#cccccc"},
  "layer":[
   {"data":{"name":"p4"},"mark":{"type":"circle","size":20,"color":"#000000","opacity":1},
    "encoding":{"x":{"field":"x","type":"quantitative","title":"R1 (Hz)","scale":{"domain":[0.885,1.215],"nice":false,"zero":false},"axis":{"values":[0.9,1.0,1.1,1.2],"format":".1f","labelPadding":4,"titleX":147,"titleY":52,"titleBaseline":"alphabetic","titleAlign":"center"}},
     "y":{"field":"y","type":"quantitative","title":"DCCS Uncorrected Standard Score","scale":{"domain":[46,134],"nice":false,"zero":false},"axis":{"values":[60,80,100,120],"titleFontSize":21.7,"titleAngle":270,"titleX":-60,"titleY":193,"titleBaseline":"middle","titleAlign":"center"}}}},
   {"data":{"name":"b4"},"mark":{"type":"area","color":"#999999","opacity":0.4},
    "encoding":{"x":{"field":"x","type":"quantitative","title":"R1 (Hz)","scale":{"domain":[0.885,1.215],"nice":false,"zero":false}},"y":{"field":"lo","type":"quantitative","title":"DCCS Uncorrected Standard Score","scale":{"domain":[46,134],"nice":false,"zero":false}},"y2":{"field":"hi"}}},
   {"data":{"name":"b4"},"mark":{"type":"line","color":"#3366FF","strokeWidth":2},
    "encoding":{"x":{"field":"x","type":"quantitative","title":"R1 (Hz)","scale":{"domain":[0.885,1.215],"nice":false,"zero":false}},"y":{"field":"fit","type":"quantitative","title":"DCCS Uncorrected Standard Score","scale":{"domain":[46,134],"nice":false,"zero":false}}}},
   {"data":{"values":[{"t":"R² = 0.09"}]},"mark":{"type":"text","align":"left","baseline":"middle","font":"Liberation Sans","fontSize":12,"color":"#222222"},
    "encoding":{"x":{"datum":0.9011,"type":"quantitative","scale":{"domain":[0.885,1.215],"nice":false,"zero":false}},"y":{"datum":127.7,"type":"quantitative","scale":{"domain":[46,134],"nice":false,"zero":false}},"text":{"field":"t","type":"nominal"}}}
  ]},
 {"width":85,"height":355,"data":{"name":"e"},"mark":"text"},
 {"width":320,"height":355,"view":{"stroke":"#cccccc"},
  "layer":[
   {"data":{"name":"p5"},"mark":{"type":"circle","size":20,"color":"#000000","opacity":1},
    "encoding":{"x":{"field":"x","type":"quantitative","title":"R1 (Hz)","scale":{"domain":[0.885,1.215],"nice":false,"zero":false},"axis":{"values":[0.9,1.0,1.1,1.2],"format":".1f","labelPadding":4,"titleX":150,"titleY":52,"titleBaseline":"alphabetic","titleAlign":"center"}},
     "y":{"field":"y","type":"quantitative","title":null,"scale":{"domain":[46,134],"nice":false,"zero":false},"axis":{"values":[60,80,100,120]}}}},
   {"data":{"name":"b5"},"mark":{"type":"area","color":"#999999","opacity":0.4},
    "encoding":{"x":{"field":"x","type":"quantitative","title":"R1 (Hz)","scale":{"domain":[0.885,1.215],"nice":false,"zero":false}},"y":{"field":"lo","type":"quantitative","title":null,"scale":{"domain":[46,134],"nice":false,"zero":false}},"y2":{"field":"hi"}}},
   {"data":{"name":"b5"},"mark":{"type":"line","color":"#3366FF","strokeWidth":2},
    "encoding":{"x":{"field":"x","type":"quantitative","title":"R1 (Hz)","scale":{"domain":[0.885,1.215],"nice":false,"zero":false}},"y":{"field":"fit","type":"quantitative","title":null,"scale":{"domain":[46,134],"nice":false,"zero":false}}}},
   {"data":{"values":[{"t":"R² = 0.09"}]},"mark":{"type":"text","align":"left","baseline":"middle","font":"Liberation Sans","fontSize":12,"color":"#222222"},
    "encoding":{"x":{"datum":0.9008,"type":"quantitative","scale":{"domain":[0.885,1.215],"nice":false,"zero":false}},"y":{"datum":127.7,"type":"quantitative","scale":{"domain":[46,134],"nice":false,"zero":false}},"text":{"field":"t","type":"nominal"}}}
  ]},
 {"width":68,"height":355,"data":{"name":"e"},"mark":"text"},
 {"width":320,"height":361,"view":{"stroke":"#cccccc"},
  "layer":[
   {"data":{"name":"p6"},"mark":{"type":"circle","size":20,"color":"#000000","opacity":1},
    "encoding":{"x":{"field":"x","type":"quantitative","title":"R1 (Hz)","scale":{"domain":[0.885,1.215],"nice":false,"zero":false},"axis":{"values":[0.9,1.0,1.1,1.2],"format":".1f","labelPadding":4,"titleX":155,"titleY":47,"titleBaseline":"alphabetic","titleAlign":"center"}},
     "y":{"field":"y","type":"quantitative","title":null,"scale":{"domain":[46,135.45],"nice":false,"zero":false},"axis":{"values":[60,80,100,120]}}}},
   {"data":{"name":"b6"},"mark":{"type":"area","color":"#999999","opacity":0.4},
    "encoding":{"x":{"field":"x","type":"quantitative","title":"R1 (Hz)","scale":{"domain":[0.885,1.215],"nice":false,"zero":false}},"y":{"field":"lo","type":"quantitative","title":null,"scale":{"domain":[46,135.45],"nice":false,"zero":false}},"y2":{"field":"hi"}}},
   {"data":{"name":"b6"},"mark":{"type":"line","color":"#3366FF","strokeWidth":2},
    "encoding":{"x":{"field":"x","type":"quantitative","title":"R1 (Hz)","scale":{"domain":[0.885,1.215],"nice":false,"zero":false}},"y":{"field":"fit","type":"quantitative","title":null,"scale":{"domain":[46,135.45],"nice":false,"zero":false}}}},
   {"data":{"values":[{"t":"R² = 0.10"}]},"mark":{"type":"text","align":"left","baseline":"middle","font":"Liberation Sans","fontSize":12,"color":"#222222"},
    "encoding":{"x":{"datum":0.9012,"type":"quantitative","scale":{"domain":[0.885,1.215],"nice":false,"zero":false}},"y":{"datum":127.6,"type":"quantitative","scale":{"domain":[46,135.45],"nice":false,"zero":false}},"text":{"field":"t","type":"nominal"}}}
  ]},
 {"width":27,"height":355,"data":{"name":"e"},"mark":"text"}
]}
]
}
